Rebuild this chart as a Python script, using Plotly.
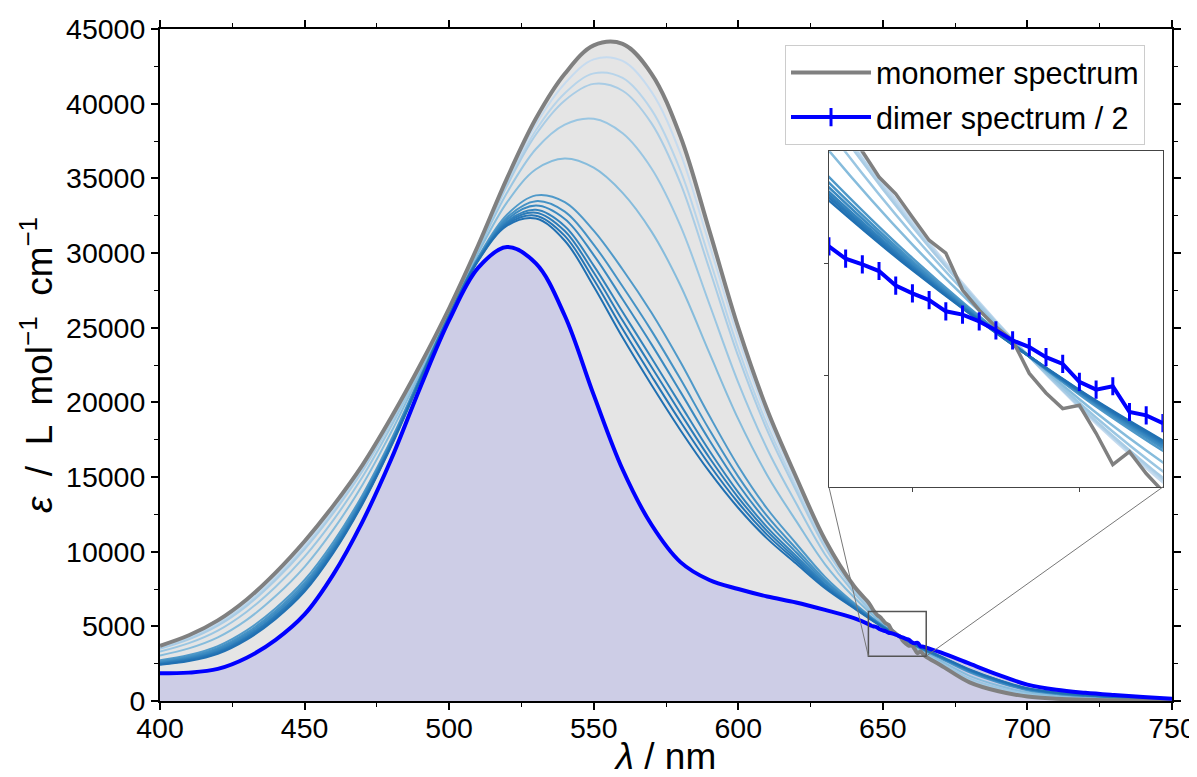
import plotly.graph_objects as go

# ---------------- data ----------------
wavelength = [400, 410, 420, 430, 440, 450, 460, 470, 480, 490, 500, 510, 520, 530, 540, 550,
              560, 570, 580, 590, 600, 610, 620, 630, 640, 650, 660, 670, 680, 690, 700, 710,
              720, 730, 740, 750]

monomer = [3700, 4400, 5400, 6800, 8600, 10700, 13100, 15800, 19000, 22500, 26300, 30500, 35000,
           39000, 42000, 43900, 44000, 42000, 37800, 31500, 25000, 19500, 15000, 10800, 7700, 5400,
           3700, 2400, 1250, 650, 300, 150, 80, 50, 30, 20]

dimer = [1850, 1900, 2150, 2900, 4100, 5800, 8500, 12000, 16200, 21000, 25500, 29000, 30400,
         29300, 25800, 20500, 15500, 11800, 9300, 8100, 7500, 7000, 6600, 6100, 5550, 4730, 3940,
         3250, 2500, 1750, 1100, 750, 550, 400, 270, 150]

# fine-resolution readings inside the zoomed window (645-665 nm)
wavelength_zoom = [645, 646, 647, 648, 649, 650, 651, 652, 653, 654, 655, 656, 657, 658, 659, 660,
                   661, 662, 663, 664, 665]
monomer_zoom = [6600, 6300, 6000, 5770, 5620, 5410, 5205, 5090, 4760, 4580, 4430, 4310, 4015, 3840,
                3700, 3730, 3480, 3200, 3315, 3120, 2960]
dimer_zoom = [5150, 5040, 4990, 4930, 4800, 4730, 4670, 4570, 4540, 4480, 4400, 4310, 4250, 4160,
              4100, 3940, 3870, 3900, 3670, 3640, 3570]

# intermediate (titration) spectra, lightest first
titration_01 = [3626, 4300, 5270, 6644, 8420, 10504, 12916, 15648, 18888, 22440, 26268, 30440, 34816,
                38612, 41352, 42964, 42860, 40792, 36660, 30564, 24300, 19000, 14664, 10612, 7614,
                5373, 3710, 2434, 1300, 694, 332, 174, 99, 64, 40, 25]
titration_02 = [3552, 4200, 5140, 6488, 8240, 10308, 12732, 15496, 18776, 22380, 26236, 30380, 34632,
                38224, 40704, 42028, 41720, 39584, 35520, 29628, 23600, 18500, 14328, 10424, 7528,
                5346, 3719, 2468, 1350, 738, 364, 198, 118, 78, 49, 30]
titration_03 = [3496, 4125, 5042, 6371, 8105, 10161, 12594, 15382, 18692, 22335, 26212, 30335, 34494,
                37933, 40218, 41326, 40865, 38678, 34665, 28926, 23075, 18125, 14076, 10283, 7463,
                5326, 3726, 2494, 1388, 771, 388, 216, 132, 89, 56, 34]
titration_04 = [3311, 3875, 4717, 5981, 7655, 9671, 12134, 15002, 18412, 22185, 26132, 30185, 34034,
                36963, 38598, 38986, 38015, 35658, 31815, 26586, 21325, 16875, 13236, 9813, 7248,
                5259, 3750, 2579, 1513, 881, 468, 276, 179, 124, 80, 47]
titration_05 = [3053, 3525, 4263, 5435, 7025, 8985, 11490, 14470, 18020, 21975, 26020, 29975, 33390,
                35605, 36330, 35710, 34025, 31430, 27825, 23310, 18875, 15125, 12060, 9155, 6948,
                5166, 3784, 2697, 1687, 1035, 580, 360, 244, 172, 114, 65]
titration_06 = [2720, 3075, 3678, 4733, 6215, 8103, 10662, 13786, 17516, 21705, 25876, 29705, 32562,
                33859, 33414, 31498, 28895, 25994, 22695, 19098, 15725, 12875, 10548, 8309, 6561,
                5045, 3827, 2850, 1912, 1233, 724, 468, 329, 235, 157, 89]
titration_07 = [2646, 2975, 3548, 4577, 6035, 7907, 10478, 13634, 17404, 21645, 25844, 29645, 32378,
                33471, 32766, 30562, 27755, 24786, 21555, 18162, 15025, 12375, 10212, 8121, 6475,
                5018, 3837, 2884, 1962, 1277, 756, 492, 348, 249, 167, 94]
titration_08 = [2590, 2900, 3450, 4460, 5900, 7760, 10340, 13520, 17320, 21600, 25820, 29600, 32240,
                33180, 32280, 29860, 26900, 23880, 20700, 17460, 14500, 12000, 9960, 7980, 6410,
                4998, 3844, 2910, 2000, 1310, 780, 510, 362, 260, 174, 98]
titration_09 = [2535, 2825, 3353, 4343, 5765, 7613, 10202, 13406, 17236, 21555, 25796, 29555, 32102,
                32889, 31794, 29158, 26045, 22974, 19845, 16758, 13975, 11625, 9708, 7839, 6346,
                4978, 3851, 2935, 2037, 1343, 804, 528, 376, 270, 181, 102]
titration_10 = [2498, 2775, 3288, 4265, 5675, 7515, 10110, 13330, 17180, 21525, 25780, 29525, 32010,
                32695, 31470, 28690, 25475, 22370, 19275, 16290, 13625, 11375, 9540, 7745, 6303,
                4965, 3856, 2952, 2062, 1365, 820, 540, 385, 277, 186, 104]
titration_11 = [2461, 2725, 3223, 4187, 5585, 7417, 10018, 13254, 17124, 21495, 25764, 29495, 31918,
                32501, 31146, 28222, 24905, 21766, 18705, 15822, 13275, 11125, 9372, 7651, 6260,
                4951, 3861, 2969, 2087, 1387, 836, 552, 395, 284, 191, 107]
titration_12 = [2424, 2675, 3158, 4109, 5495, 7319, 9926, 13178, 17068, 21465, 25748, 29465, 31826,
                32307, 30822, 27754, 24335, 21162, 18135, 15354, 12925, 10875, 9204, 7557, 6217,
                4938, 3866, 2986, 2112, 1409, 852, 564, 404, 291, 196, 110]

titration_series = [titration_01, titration_02, titration_03, titration_04, titration_05, titration_06,
                    titration_07, titration_08, titration_09, titration_10, titration_11, titration_12]
titration_colors = ['#c6dbef', '#b7d4ea', '#a9cce5', '#9ac6e2', '#86bcdc', '#4f99c9',
                    '#4592c5', '#3b8ac1', '#3383bd', '#2c7cb9', '#2676b6', '#2070b2']

x_ticks = [400, 450, 500, 550, 600, 650, 700, 750]
y_ticks = [0, 5000, 10000, 15000, 20000, 25000, 30000, 35000, 40000, 45000]

# zoom window and inset placement
zoom_x = [645, 665]
zoom_y = [3000, 6000]
inset_dom_x = [0.661, 0.991]
inset_dom_y = [0.3185, 0.818]
x_range = [400, 750]
y_range = [0, 45000]


def merged(coarse_x, coarse_y, fine_x, fine_y):
    pts = [(a, b) for a, b in zip(coarse_x, coarse_y) if a < fine_x[0] or a > fine_x[-1]]
    pts += list(zip(fine_x, fine_y))
    pts.sort()
    return [p[0] for p in pts], [p[1] for p in pts]


mx, my = merged(wavelength, monomer, wavelength_zoom, monomer_zoom)
dx, dy = merged(wavelength, dimer, wavelength_zoom, dimer_zoom)

GRAY = '#808080'
BLUE = '#0000ff'

fig = go.Figure()

# fills (drawn below every line)
fig.add_trace(go.Scatter(x=mx, y=my, mode='lines', line=dict(width=0, shape='spline'),
                         fill='tozeroy', fillcolor='#e5e5e5', showlegend=False, hoverinfo='skip'))
fig.add_trace(go.Scatter(x=dx, y=dy, mode='lines', line=dict(width=0, shape='spline'),
                         fill='tozeroy', fillcolor='#cdcde6', showlegend=False, hoverinfo='skip'))

# intermediate spectra
for s, c in zip(titration_series, titration_colors):
    fig.add_trace(go.Scatter(x=wavelength, y=s, mode='lines', line=dict(color=c, width=2, shape='spline'),
                             showlegend=False))

fig.add_trace(go.Scatter(x=mx, y=my, mode='lines', line=dict(color=GRAY, width=4, shape='spline'),
                         name='monomer spectrum', legendgroup='m', legendrank=1))
fig.add_trace(go.Scatter(x=dx, y=dy, mode='lines', line=dict(color=BLUE, width=4, shape='spline'),
                         showlegend=False))

# inset traces
for s, c in zip(titration_series, titration_colors):
    fig.add_trace(go.Scatter(x=wavelength, y=s, mode='lines', line=dict(color=c, width=2.5, shape='spline'),
                             showlegend=False, xaxis='x2', yaxis='y2'))
fig.add_trace(go.Scatter(x=wavelength_zoom, y=monomer_zoom, mode='lines', line=dict(color=GRAY, width=3.5),
                         showlegend=False, xaxis='x2', yaxis='y2'))
fig.add_trace(go.Scatter(x=wavelength_zoom, y=dimer_zoom, mode='lines+markers',
                         line=dict(color=BLUE, width=4),
                         marker=dict(symbol='line-ns', size=13, color=BLUE,
                                     line=dict(color=BLUE, width=3)),
                         name='dimer spectrum / 2', legendgroup='d', legendrank=2,
                         xaxis='x2', yaxis='y2'))


# zoom box and connectors
def to_data(px, py):
    return (x_range[0] + px * (x_range[1] - x_range[0]), y_range[0] + py * (y_range[1] - y_range[0]))


ll = to_data(inset_dom_x[0], inset_dom_y[0])
lr = to_data(inset_dom_x[1], inset_dom_y[0])
shapes = [
    dict(type='rect', xref='x', yref='y', x0=zoom_x[0], x1=zoom_x[1], y0=zoom_y[0], y1=zoom_y[1],
         line=dict(color='#555555', width=1.5), layer='above'),
    dict(type='line', xref='x', yref='y', x0=zoom_x[0], y0=zoom_y[0], x1=ll[0], y1=ll[1],
         line=dict(color='#777777', width=1), layer='above'),
    dict(type='line', xref='x', yref='y', x0=zoom_x[1], y0=zoom_y[0], x1=lr[0], y1=lr[1],
         line=dict(color='#777777', width=1), layer='above'),
]

axis_common = dict(showgrid=False, zeroline=False, showline=True, linecolor='black', linewidth=2,
                   mirror='allticks', ticks='outside', ticklen=7, tickwidth=1.5, tickcolor='black',
                   automargin=False)

# the page adds an 8 px body margin, so the figure is sized to end at the window edge
fig.update_layout(
    width=1189, height=769,
    margin=dict(l=152, r=25, t=21, b=76),
    plot_bgcolor='white', paper_bgcolor='white',
    font=dict(family='Liberation Sans, Arial, sans-serif', size=28.5, color='black'),
    shapes=shapes,
    xaxis=dict(range=x_range, tickvals=x_ticks, ticktext=[str(v) for v in x_ticks],
               ticklabelstandoff=-6,
               minor=dict(dtick=25, tick0=400, ticks='outside', ticklen=4, tickwidth=1.2,
                          tickcolor='black', showgrid=False),
               title=dict(text='<i>λ</i> / nm', font=dict(size=37), standoff=2), **axis_common),
    yaxis=dict(range=y_range, tickvals=y_ticks, ticktext=[str(v) for v in y_ticks],
               minor=dict(dtick=2500, tick0=0, ticks='outside', ticklen=4, tickwidth=1.2,
                          tickcolor='black', showgrid=False),
               title=dict(text='<i>ε</i>  /  L  mol<sup>−1</sup>  cm<sup>−1</sup>', font=dict(size=37),
                          standoff=2), **axis_common),
    xaxis2=dict(domain=inset_dom_x, anchor='y2', range=zoom_x, tickvals=[650, 660],
                showticklabels=False, showgrid=False, zeroline=False, showline=True,
                linecolor='#444444', linewidth=1, mirror=True, ticks='outside', ticklen=4,
                tickcolor='#444444', automargin=False),
    yaxis2=dict(domain=inset_dom_y, anchor='x2', range=zoom_y, tickvals=[4000, 5000],
                showticklabels=False, showgrid=False, zeroline=False, showline=True,
                linecolor='#444444', linewidth=1, mirror=True, ticks='outside', ticklen=4,
                tickcolor='#444444', automargin=False),
    legend=dict(x=0.6176, y=0.976, xanchor='left', yanchor='top', bgcolor='rgba(255,255,255,0.9)',
                bordercolor='#cccccc', borderwidth=1, font=dict(size=30.5), itemwidth=80,
                traceorder='grouped', tracegroupgap=2),
)

fig.write_html('out.html')
